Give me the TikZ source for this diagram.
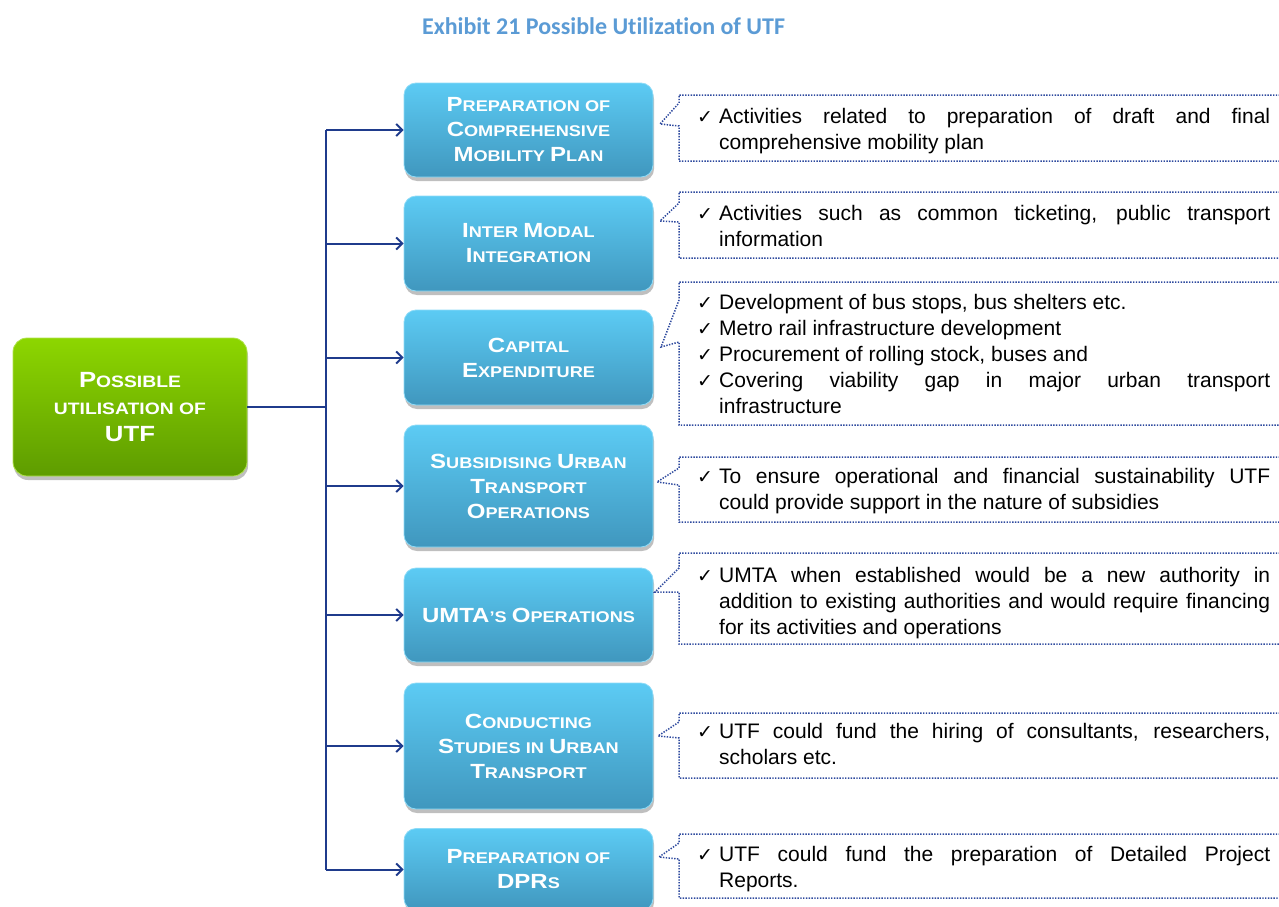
\documentclass[tikz,border=0pt]{standalone}
\usepackage{fontspec}
\setmainfont{Liberation Sans}
\newfontfamily\boxfont[FakeStretch=1.17]{Liberation Sans}
\newfontfamily\titlefont[Ligatures=NoCommon]{Carlito}
\newfontfamily\checkfont{DejaVu Sans}
\usetikzlibrary{arrows.meta,shadows}
\definecolor{boxtop}{HTML}{5CCBF4}
\definecolor{boxbot}{HTML}{4097BE}
\definecolor{grtop}{HTML}{8DD600}
\definecolor{grbot}{HTML}{5E9C00}
\definecolor{navy}{HTML}{1F3B8C}
\definecolor{dotblue}{HTML}{2E4A9E}
\definecolor{titleblue}{HTML}{5B9BD5}
\newcommand\BC[1]{{\fontsize{20.5}{25}\selectfont #1}}
\newcommand\GC[1]{{\fontsize{22}{27}\selectfont #1}}
\newcommand\ck{\makebox[22pt][l]{\checkfont\fontsize{19}{26}\selectfont ✓}}
\newcommand\J[1]{\makebox[551pt][s]{#1}}
\newcommand\I{\hspace*{22pt}}
\begin{document}
\begin{tikzpicture}[x=1pt,y=-1pt,
  bluebox/.style={rounded corners=12pt, minimum width=249pt, text width=245pt, align=center,
    top color=boxtop, bottom color=boxbot, draw=boxtop!70!white, line width=0.8pt,
    drop shadow={shadow xshift=1pt, shadow yshift=-4pt, opacity=0.25, fill=black},
    font=\boxfont\bfseries\fontsize{15.5}{25}\selectfont, text=white, inner sep=0pt},
  greenbox/.style={rounded corners=14pt, minimum width=234pt, minimum height=138pt, text width=230pt, align=center,
    top color=grtop, bottom color=grbot, draw=grtop!70!white, line width=0.8pt,
    drop shadow={shadow xshift=1pt, shadow yshift=-4pt, opacity=0.25, fill=black},
    font=\boxfont\bfseries\fontsize{16.5}{27}\selectfont, text=white, inner sep=0pt},
  conn/.style={draw=navy, line width=2pt},
  arr/.style={conn, -{Straight Barb[length=6pt,width=12pt]}},
  callout/.style={draw=dotblue, line width=1.5pt, dash pattern=on 1.4pt off 1.4pt},
  calltext/.style={anchor=base west, inner sep=0pt, font=\fontsize{21}{26}\selectfont, text=black},
  titlestyle/.style={anchor=base, inner sep=0pt, font=\titlefont\bfseries\fontsize{24}{28}\selectfont, text=titleblue}
]
\useasboundingbox (0,0) rectangle (1279,907);

\node[titlestyle] (title) at (603.5,34.5) {Exhibit 21 Possible Utilization of UTF};

% main node
\node[greenbox] (g) at (130,407) {\GC{P}OSSIBLE\\UTILISATION OF\\\GC{UTF}};

% blue boxes
\node[bluebox, minimum height=94pt] (b1) at (528.5,130) {\BC{P}REPARATION OF\\\BC{C}OMPREHENSIVE\\\BC{M}OBILITY \BC{P}LAN};
\node[bluebox, minimum height=95pt] (b2) at (528.5,243.5) {\BC{I}NTER \BC{M}ODAL\\\BC{I}NTEGRATION};
\node[bluebox, minimum height=95pt] (b3) at (528.5,357.5) {\BC{C}APITAL\\\BC{E}XPENDITURE};
\node[bluebox, minimum height=122pt] (b4) at (528.5,486) {\BC{S}UBSIDISING \BC{U}RBAN\\\BC{T}RANSPORT\\\BC{O}PERATIONS};
\node[bluebox, minimum height=94pt] (b5) at (528.5,615) {\BC{UMTA}’S \BC{O}PERATIONS};
\node[bluebox, minimum height=126pt] (b6) at (528.5,746) {\BC{C}ONDUCTING\\\BC{S}TUDIES IN \BC{U}RBAN\\\BC{T}RANSPORT};
\node[bluebox, minimum height=82pt] (b7) at (528.5,869.5) {\BC{P}REPARATION OF\\\BC{DPR}S};

% connectors
\coordinate (jn) at (326,407);
\draw[conn] (g.east) -- (jn);
\draw[conn] (jn |- b1.west) -- (jn |- b7.west);
\foreach \i in {1,...,7}{
  \draw[arr] (jn |- b\i.west) -- (b\i.west);
}

% callouts
\draw[callout] (1280,95) -- (679,95) -- (679,103) -- (660,124) -- (679,126) -- (679,161) -- (1280,161);
\draw[callout] (1280,192) -- (679,192) -- (679,203) -- (660,221) -- (679,222) -- (679,258) -- (1280,258);
\draw[callout] (1280,282) -- (679,282) -- (679,300) -- (661,347) -- (679,342) -- (679,425) -- (1280,425);
\draw[callout] (1280,457) -- (679,457) -- (679,468) -- (657,482) -- (679,485) -- (679,522) -- (1280,522);
\draw[callout] (1280,553) -- (679,553) -- (679,568) -- (655,592) -- (679,592) -- (679,644) -- (1280,644);
\draw[callout] (1280,713) -- (679,713) -- (679,722) -- (658,736) -- (679,738) -- (679,778) -- (1280,778);
\draw[callout] (1280,834) -- (679,834) -- (679,843) -- (659,857) -- (679,859) -- (679,898) -- (1280,898);

% callout texts
\node[calltext] (c1) at (697,123) {\parbox[t]{573pt}{\ck\J{Activities related to preparation of draft and final}\\ \I comprehensive mobility plan}};
\node[calltext] (c2) at (697,220) {\parbox[t]{573pt}{\ck\J{Activities such as common ticketing, public transport}\\ \I information}};
\node[calltext] (c3) at (697,309) {\parbox[t]{573pt}{\ck Development of bus stops, bus shelters etc.\\ \ck Metro rail infrastructure development\\ \ck Procurement of rolling stock, buses and\\ \ck\J{Covering viability gap in major urban transport}\\ \I infrastructure}};
\node[calltext] (c4) at (697,483) {\parbox[t]{573pt}{\ck\J{To ensure operational and financial sustainability UTF}\\ \I could provide support in the nature of subsidies}};
\node[calltext] (c5) at (697,582) {\parbox[t]{573pt}{\ck\J{UMTA when established would be a new authority in}\\ \I\J{addition to existing authorities and would require financing}\\ \I for its activities and operations}};
\node[calltext] (c6) at (697,738) {\parbox[t]{573pt}{\ck\J{UTF could fund the hiring of consultants, researchers,}\\ \I scholars etc.}};
\node[calltext] (c7) at (697,861) {\parbox[t]{573pt}{\ck\J{UTF could fund the preparation of Detailed Project}\\ \I Reports.}};
\end{tikzpicture}
\end{document}
